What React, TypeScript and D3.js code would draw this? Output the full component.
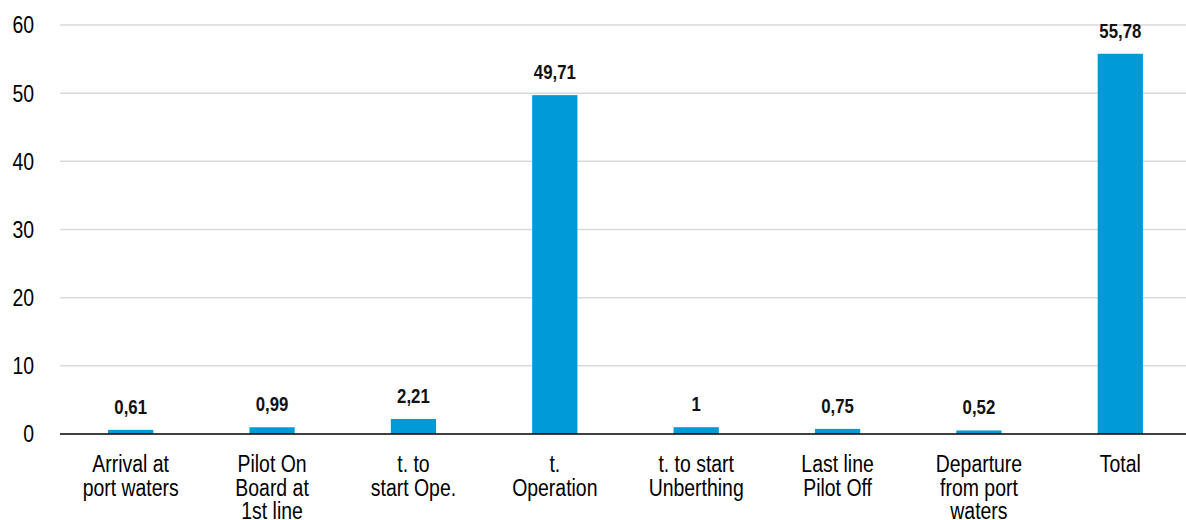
import React from "react";
import * as d3 from "d3";

const categories: string[][] = [
  ["Arrival at", "port waters"],
  ["Pilot On", "Board at", "1st line"],
  ["t. to", "start Ope."],
  ["t.", "Operation"],
  ["t. to start", "Unberthing"],
  ["Last line", "Pilot Off"],
  ["Departure", "from port", "waters"],
  ["Total"],
];
const values: number[] = [0.61, 0.99, 2.21, 49.71, 1, 0.75, 0.52, 55.78];
const valueLabels: string[] = ["0,61", "0,99", "2,21", "49,71", "1", "0,75", "0,52", "55,78"];
const yTicks: number[] = [0, 10, 20, 30, 40, 50, 60];

const W = 1186;
const H = 520;
const left = 60;
const right = 1186;
const top = 25;
const bottom = 434;
const FONT = "'Liberation Sans', Arial, sans-serif";
const SX = 0.81;

export default function App() {
  const x = d3
    .scaleBand<number>()
    .domain(values.map((_, i) => i))
    .range([left, 1191])
    .paddingInner(0.68)
    .paddingOuter(0.34);
  const y = d3.scaleLinear().domain([0, 60]).range([bottom, top]);
  const cx = (i: number) => (x(i) as number) + x.bandwidth() / 2;
  return (
    <svg width={W} height={H} style={{ position: "absolute", left: 0, top: 0 }} fontFamily={FONT}>
      <rect width={W} height={H} fill="#fff" />
      {yTicks.map((t) => (
        <g key={t}>
          {t !== 0 && (
            <line x1={left} x2={right} y1={y(t)} y2={y(t)} stroke="#d9d9d9" strokeWidth={1.5} />
          )}
          <text
            transform={`translate(34,${y(t)}) scale(${SX},1)`}
            dy="0.35em"
            textAnchor="end"
            fontSize={24}
            fill="#000"
          >
            {t}
          </text>
        </g>
      ))}
      {values.map((v, i) => (
        <g key={i}>
          <rect x={x(i)} y={y(v)} width={x.bandwidth()} height={y(0) - y(v)} fill="#009ad9" />
          <text
            transform={`translate(${cx(i)},${y(v) - 16}) scale(0.84,1)`}
            textAnchor="middle"
            fontSize={20}
            fontWeight="bold"
            fill="#111"
          >
            {valueLabels[i]}
          </text>
          {categories[i].map((line, j) => (
            <text
              key={j}
              transform={`translate(${cx(i)},${472 + j * 23.5}) scale(${SX},1)`}
              textAnchor="middle"
              fontSize={24}
              fill="#000"
            >
              {line}
            </text>
          ))}
        </g>
      ))}
      <line x1={left} x2={right} y1={y(0)} y2={y(0)} stroke="#000" strokeWidth={1.5} />
    </svg>
  );
}
